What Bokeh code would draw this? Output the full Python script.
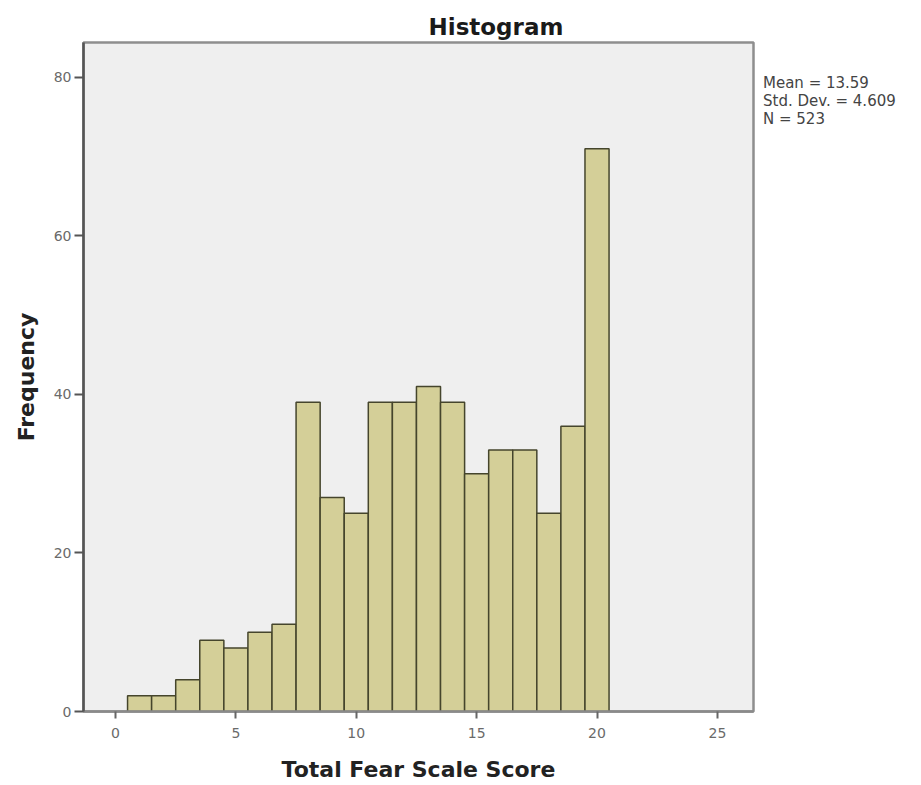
from bokeh.plotting import figure
from bokeh.embed import file_html
from bokeh.resources import INLINE
from bokeh.models import Range1d, FixedTicker, Title, Div
from bokeh.layouts import row

# Data
scores = [1, 2, 3, 4, 5, 6, 7, 8, 9, 10, 11, 12, 13, 14, 15, 16, 17, 18, 19, 20]
frequency = [2, 2, 4, 9, 8, 10, 11, 39, 27, 25, 39, 39, 41, 39, 30, 33, 33, 25, 36, 71]
x_ticks = [0, 5, 10, 15, 20, 25]
y_ticks = [0, 20, 40, 60, 80]
stats_lines = ["Mean = 13.59", "Std. Dev. = 4.609", "N = 523"]

FONT = "DejaVu Sans"

p = figure(width=763, height=785, output_backend="svg", toolbar_location=None,
           x_range=Range1d(-1.33, 26.5), y_range=Range1d(0, 84.4),
           min_border_left=83, min_border_right=10, min_border_top=42, min_border_bottom=74)

p.background_fill_color = "#efefef"
p.border_fill_color = "white"
p.outline_line_color = "#8e8e8e"
p.outline_line_width = 2.5
p.grid.visible = False

p.vbar(x=scores, top=frequency, width=1.0, bottom=0,
       fill_color="#d4cf98", line_color="#45452c", line_width=1.5)

# Title
t = Title(text="Histogram", align="left", offset=345, standoff=6,
          text_font=FONT, text_font_size="23px", text_font_style="bold", text_color="#1a1a1a")
p.add_layout(t, "above")
p.title.visible = False

# Axes
p.xaxis.ticker = FixedTicker(ticks=x_ticks)
p.yaxis.ticker = FixedTicker(ticks=y_ticks)
for ax in (p.xaxis[0], p.yaxis[0]):
    ax.minor_tick_line_color = None
    ax.major_tick_in = 0
    ax.major_label_text_font = FONT
    ax.major_label_text_font_size = "14px"
    ax.major_label_text_color = "#6a6a6a"
    ax.axis_label_text_font = FONT
    ax.axis_label_text_font_size = "22px"
    ax.axis_label_text_font_style = "bold"
    ax.axis_label_text_color = "#222222"

p.xaxis.axis_label = "Total Fear Scale Score"
p.yaxis.axis_label = "Frequency"
p.yaxis.axis_line_color = "#555555"
p.yaxis.axis_line_width = 2.5
p.yaxis.major_tick_line_color = "#555555"
p.yaxis.major_tick_line_width = 2
p.yaxis.major_tick_out = 9
p.xaxis.axis_line_color = "#8a8a8a"
p.xaxis.axis_line_width = 2.5
p.xaxis.major_tick_line_color = "#666666"
p.xaxis.major_tick_line_width = 2
p.xaxis.major_tick_out = 7
p.xaxis.major_label_standoff = 9
p.xaxis.axis_label_standoff = 16
p.yaxis.major_label_standoff = 3
p.yaxis.axis_label_standoff = 12

# Summary statistics to the right of the plot
stats = Div(text="<br>".join(stats_lines), width=158, height=120, margin=(74, 0, 0, 0),
            styles={"font-family": FONT, "font-size": "15px", "line-height": "18px",
                    "color": "#444444", "padding": "0", "white-space": "nowrap"})

layout = row(p, stats)
open("out.html", "w").write(file_html(layout, INLINE))
